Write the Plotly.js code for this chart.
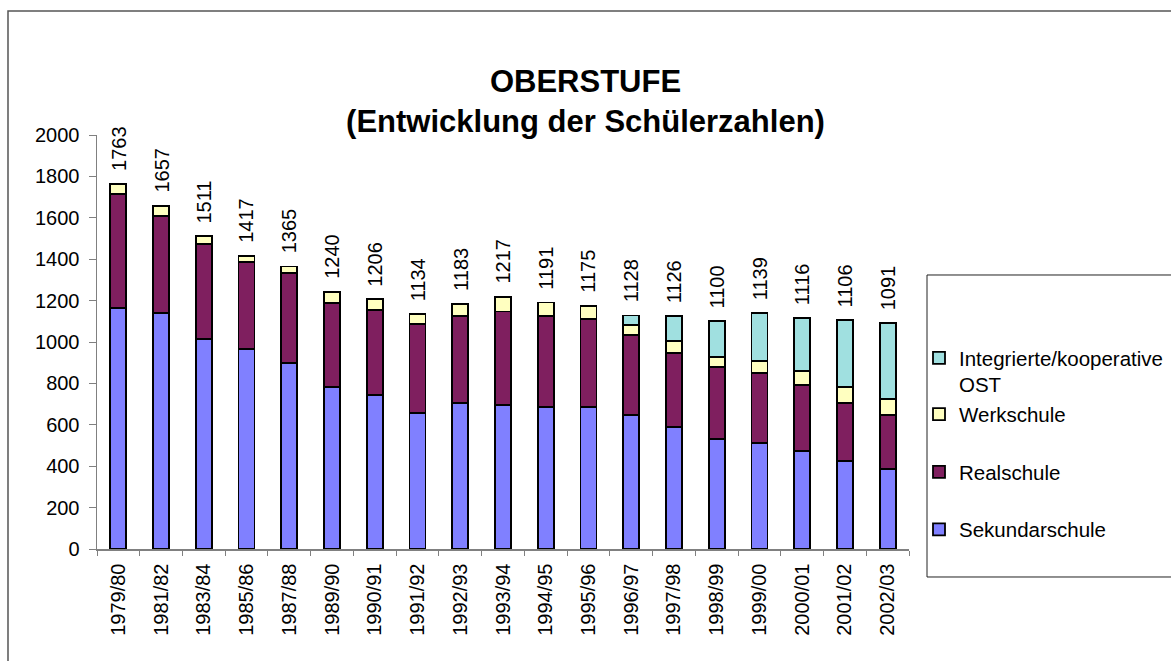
<!DOCTYPE html>
<html>
<head>
<meta charset="utf-8">
<script src="https://cdn.plot.ly/plotly-3.0.1.min.js"></script>
<style>html,body{margin:0;padding:0;background:#fff;overflow:hidden;}#chart{width:1171px;height:661px;}</style>
</head>
<body>
<div id="chart"></div>
<script>
const categories = ['1979/80','1981/82','1983/84','1985/86','1987/88','1989/90','1990/91','1991/92','1992/93','1993/94','1994/95','1995/96','1996/97','1997/98','1998/99','1999/00','2000/01','2001/02','2002/03'];
const sekundarschule = [1166,1139,1014,965,898,782,743,656,705,695,685,685,647,589,531,512,473,425,386];
const realschule = [549,470,460,422,434,405,412,432,421,452,441,425,386,357,348,338,319,280,261];
const werkschule = [48,48,37,30,33,53,51,46,57,70,65,65,48,58,48,57,67,77,77];
const integrierte = [null,null,null,null,null,null,null,null,null,null,null,null,47,122,173,232,257,324,367];
const totals = [1763,1657,1511,1417,1365,1240,1206,1134,1183,1217,1191,1175,1128,1126,1100,1139,1116,1106,1091];

const FONT = '"Liberation Sans", Arial, sans-serif';
const L = 97, R = 909, T = 135, B = 549;
const W = R - L, H = B - T;
const px2x = p => (p - L) / W;
const px2y = p => (B - p) / H;
const pt = (x, y) => px2x(x).toFixed(5) + ',' + px2y(y).toFixed(5);

function barTrace(name, values, color, group, rank) {
  return {
    type: 'bar', name: name, x: categories, y: values,
    marker: {color: color, line: {color: '#000', width: 1.8}},
    legendgroup: group, legendrank: rank, hoverinfo: 'skip'
  };
}

const data = [
  barTrace('Sekundarschule', sekundarschule, '#8080FF', 'c', 4),
  barTrace('Realschule', realschule, '#7F1F5F', 'b', 3),
  barTrace('Werkschule', werkschule, '#FFFFC0', 'a', 2),
  barTrace('Integrierte/kooperative<br>OST', integrierte, '#A0E0E0', 'a', 1)
];

const annotations = categories.map((c, i) => ({
  x: c, y: totals[i], xref: 'x', yref: 'y',
  text: String(totals[i]), showarrow: false, textangle: -90,
  xanchor: 'center', yanchor: 'bottom', yshift: 11,
  font: {family: FONT, size: 20, color: '#000'}
}));

const layout = {
  width: 1171, height: 661,
  margin: {l: L, r: 1171 - R, t: T, b: 661 - B, pad: 0, autoexpand: false},
  paper_bgcolor: '#fff', plot_bgcolor: '#fff',
  font: {family: FONT, size: 20, color: '#000'},
  title: {
    text: 'OBERSTUFE<br>(Entwicklung der Schülerzahlen)',
    font: {family: FONT, size: 31, color: '#000', weight: 'bold'},
    x: 0.5, xref: 'container', xanchor: 'center',
    y: 1 - 92 / 661, yref: 'container', yanchor: 'top'
  },
  barmode: 'stack', bargap: 0.626,
  showlegend: true,
  legend: {
    x: px2x(919), y: px2y(338), xanchor: 'left', yanchor: 'top',
    traceorder: 'grouped', tracegroupgap: 28,
    font: {family: FONT, size: 20.5, color: '#000'},
    bgcolor: 'rgba(0,0,0,0)', borderwidth: 0, valign: 'top'
  },
  xaxis: {
    type: 'category', tickangle: -90, tickson: 'boundaries',
    ticks: 'outside', ticklen: 5, tickcolor: '#808080', tickwidth: 1,
    ticklabelstandoff: 5,
    showline: true, linecolor: '#808080', linewidth: 1.5,
    showgrid: false, zeroline: false, fixedrange: true,
    tickfont: {family: FONT, size: 20, color: '#000'}
  },
  yaxis: {
    range: [0, 2000], dtick: 200, tick0: 0,
    ticks: 'outside', ticklen: 7, tickcolor: '#808080', tickwidth: 1,
    ticklabelstandoff: 5,
    showline: true, linecolor: '#808080', linewidth: 1.5,
    showgrid: false, zeroline: false, fixedrange: true,
    tickfont: {family: FONT, size: 20, color: '#000'}
  },
  xaxis2: {
    overlaying: 'x', anchor: 'y', side: 'bottom',
    range: [-0.5, categories.length - 0.5], tick0: -0.5, dtick: 1,
    ticks: 'inside', ticklen: 5, tickcolor: '#808080', tickwidth: 1,
    showticklabels: false, showline: false, showgrid: false, zeroline: false, fixedrange: true
  },
  yaxis2: {
    overlaying: 'y', anchor: 'x', side: 'left',
    range: [0, 2000], tick0: 0, dtick: 200,
    ticks: 'inside', ticklen: 6, tickcolor: '#808080', tickwidth: 1,
    showticklabels: false, showline: false, showgrid: false, zeroline: false, fixedrange: true
  },
  annotations: annotations,
  shapes: [
    {type: 'path', xref: 'paper', yref: 'paper',
     path: 'M' + pt(8, 700) + 'L' + pt(8, 11) + 'L' + pt(1171, 11),
     line: {color: '#555', width: 1.5}, layer: 'below'},
    {type: 'path', xref: 'paper', yref: 'paper',
     path: 'M' + pt(1171, 275) + 'L' + pt(927, 275) + 'L' + pt(927, 577) + 'L' + pt(1171, 577),
     line: {color: '#222', width: 1}, layer: 'above'}
  ]
};

Plotly.newPlot('chart', data, layout, {displayModeBar: false, staticPlot: true});
</script>
</body>
</html>
